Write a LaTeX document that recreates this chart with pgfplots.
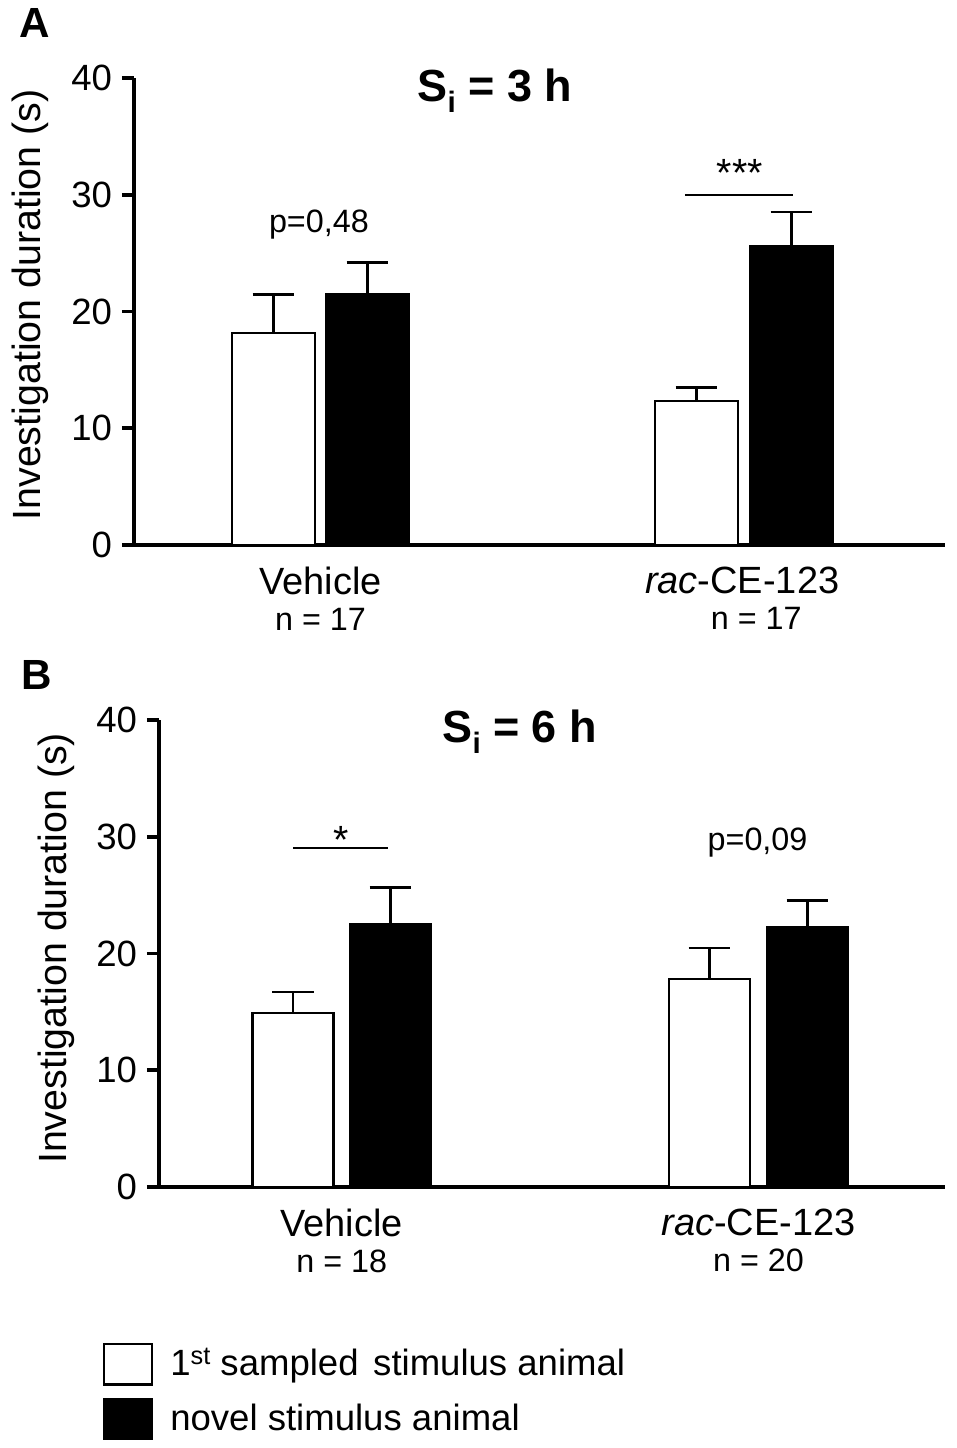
\documentclass[border=0pt]{standalone}
\usepackage{pgfplots}
\pgfplotsset{compat=1.18}
\usepackage{fontspec}
\setmainfont{Liberation Sans}

\newcommand{\sub}{\raisebox{-1.4mm}{\fontsize{10.5}{11}\selectfont i}}

\pgfplotsset{
  panel/.style={
    scale only axis, anchor=south west,
    xmin=0, xmax=10, ymin=0, ymax=40,
    axis x line=bottom, axis y line=left,
    axis line style={-, line width=1.4pt},
    ytick={0,10,20,30,40},
    tick align=outside,
    major tick length=1.5mm,
    ytick style={line width=1.4pt, black},
    xtick style={draw=none},
    yticklabel style={font=\fontsize{13}{14}\selectfont},
    /pgf/number format/assume math mode=true,
    ylabel={Investigation duration (s)},
    ylabel style={font=\fontsize{14}{16}\selectfont, anchor=center},
    xticklabel style={align=center, font=\fontsize{13.5}{13}\selectfont},
    clip=false,
  },
  barw/.style={ybar, bar shift=0pt, bar width=1.03, draw=black, line width=0.75pt,
    error bars/y dir=plus, error bars/y explicit,
    error bars/error bar style={line width=0.9pt, black},
    error bars/error mark options={line width=0.9pt, mark size=2.6mm, black, rotate=90}},
}

\begin{document}
\begin{tikzpicture}
\path[use as bounding box] (0,0) rectangle (119.625mm,181mm);

\node[anchor=north west, inner sep=0pt, font=\bfseries\fontsize{15}{16}\selectfont] at (2.4mm,180mm) {A};
\node[anchor=north west, inner sep=0pt, font=\bfseries\fontsize{15}{16}\selectfont] at (2.6mm,98.5mm) {B};

% ---------- Panel A ----------
\begin{axis}[panel, at={(16.75mm,112.875mm)}, width=101.375mm, height=58.375mm,
  ylabel style={at={(axis description cs:-0.128,0.514)}},
  xtick={2.30,7.50},
  xticklabels={{Vehicle\\{\fontsize{11.5}{13}\selectfont n = 17}},
               {\textit{rac}-CE-123\\{\fontsize{11.5}{13}\selectfont\hspace*{3.5mm}n = 17}}},
]
\addplot[barw, fill=white] coordinates {(1.72,18.18) +- (0,3.29) (6.935,12.33) +- (0,1.14)};
\addplot[barw, fill=black] coordinates {(2.878,21.47) +- (0,2.73) (8.106,25.61) +- (0,2.91)};
\addplot[black, line width=0.8pt, no marks, forget plot] coordinates {(6.794,30) (8.126,30)};
\node[anchor=base, font=\fontsize{11.5}{13}\selectfont] at (axis cs:2.28,26.8) {p=0,48};
\node[anchor=base, font=\fontsize{14}{16}\selectfont] at (axis cs:7.47,30.7) {***};
\node[anchor=base, font=\bfseries\fontsize{16}{18}\selectfont] at (axis cs:4.45,37.97) {S\sub{} = 3 h};
\end{axis}

% ---------- Panel B ----------
\begin{axis}[panel, at={(19.875mm,32.625mm)}, width=98.25mm, height=58.375mm,
  ylabel style={at={(axis description cs:-0.130,0.511)}},
  xtick={2.325,7.627},
  xticklabels={{Vehicle\\{\fontsize{11.5}{13}\selectfont n = 18}},
               {\textit{rac}-CE-123\\{\fontsize{11.5}{13}\selectfont n = 20}}},
  legend style={at={(axis description cs:-0.0725,-0.332)}, anchor=north west,
    draw=none, fill=none, inner sep=0pt, row sep=1.5mm,
    font=\fontsize{13}{15}\selectfont, legend cell align=left,
    /tikz/every odd column/.append style={column sep=1.5mm}},
  legend image code/.code={\draw[#1, line width=0.75pt] (0mm,-2.55mm) rectangle (6mm,2.55mm);},
]
\addplot[barw, fill=white] coordinates {(1.705,14.93) +- (0,1.77) (7.003,17.82) +- (0,2.65)};
\addlegendentry{1{\fontsize{9}{9}\selectfont\raisebox{1.3mm}{st}} sampled\hspace{0.4em}stimulus animal}
\addplot[barw, fill=black] coordinates {(2.945,22.5) +- (0,3.17) (8.25,22.3) +- (0,2.22)};
\addlegendentry{novel stimulus animal}
\addplot[black, line width=0.8pt, no marks, forget plot] coordinates {(1.705,29.05) (2.913,29.05)};
\node[anchor=base, font=\fontsize{14}{16}\selectfont] at (axis cs:2.316,28.56) {*};
\node[anchor=base, font=\fontsize{11.5}{13}\selectfont] at (axis cs:7.615,28.78) {p=0,09};
\node[anchor=base, font=\bfseries\fontsize{16}{18}\selectfont] at (axis cs:4.59,38.06) {S\sub{} = 6 h};
\end{axis}
\end{tikzpicture}
\end{document}
